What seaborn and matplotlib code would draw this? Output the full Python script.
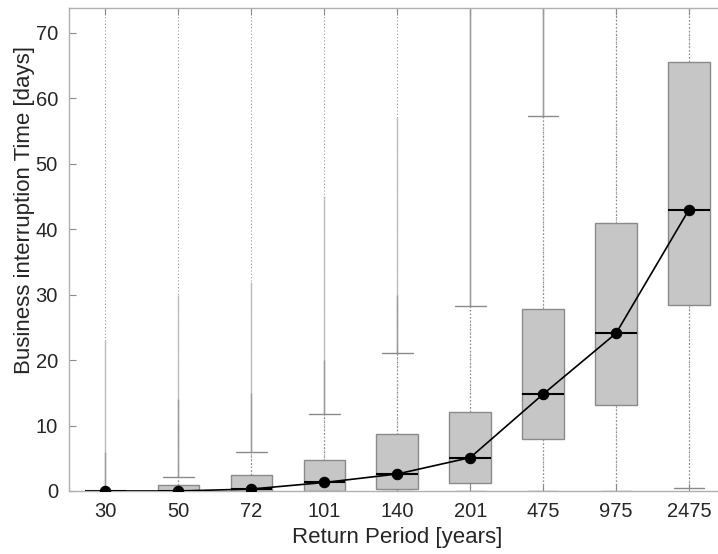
import numpy as np
import matplotlib
matplotlib.use("Agg")
import matplotlib.pyplot as plt
import seaborn as sns

# Return periods (years) shown as categories
return_periods = ["30", "50", "72", "101", "140", "201", "475", "975", "2475"]

# Box-plot summary of business interruption time [days]
q1 = [0.0, 0.0, 0.0, 0.0, 0.35, 1.2, 8.0, 13.2, 28.4]
median = [0.0, 0.0, 0.3, 1.3, 2.6, 5.1, 14.8, 24.1, 43.0]
q3 = [0.0, 0.9, 2.4, 4.75, 8.65, 12.05, 27.8, 41.0, 65.5]
whisker_low = [0.0, 0.0, 0.0, 0.0, 0.0, 0.0, 0.0, 0.0, 0.5]
whisker_high = [0.0, 2.2, 6.0, 11.8, 21.1, 28.2, 57.3, 80.0, 80.0]

# Outliers above each cap: tightly packed core, then a looser band
outlier_core_top = [6.0, 14.0, 15.0, 20.0, 30.0, 74.0, 74.0, 80.0, 80.0]
outlier_dense_top = [23.0, 30.0, 32.0, 45.0, 57.0, 74.0, 74.0, 80.0, 80.0]

sns.set_theme(style="white")
plt.rcParams["font.family"] = ["Liberation Sans", "DejaVu Sans"]

fig = plt.figure(figsize=(7.18, 5.54), dpi=100)
ax = fig.add_axes([69 / 718, (554 - 491) / 554, (725.5 - 69) / 718, (491 - 8) / 554])

positions = np.arange(len(return_periods))
edge = "#8a8a8a"

# dotted vertical grid at each category
ax.set_axisbelow(True)
ax.xaxis.grid(True, linestyle=(0, (1, 2)), color="#9a9a9a", linewidth=0.8)
ax.yaxis.grid(False)

# outlier streaks above the caps
ax.vlines(positions, whisker_high, outlier_dense_top, colors="#bdbdbd", linewidth=1.0, zorder=1)
ax.vlines(positions, whisker_high, outlier_core_top, colors="#9c9c9c", linewidth=1.0, zorder=1)

stats = [
    dict(label=lab, q1=a, med=m, q3=b, whislo=lo, whishi=hi)
    for lab, a, m, b, lo, hi in zip(return_periods, q1, median, q3, whisker_low, whisker_high)
]
ax.bxp(
    stats,
    positions=positions,
    widths=0.57,
    patch_artist=True,
    showfliers=False,
    boxprops=dict(facecolor="#c6c6c6", edgecolor=edge, linewidth=1.0),
    whiskerprops=dict(color=edge, linestyle=(0, (1, 2)), linewidth=0.9),
    capprops=dict(color=edge, linewidth=1.0),
    capwidths=0.42,
    medianprops=dict(color="black", linewidth=1.5),
    manage_ticks=False,
    zorder=2,
)

# medians connected by a line
sns.lineplot(x=positions, y=median, ax=ax, color="black", linewidth=1.2,
             marker="o", markersize=7.5, markeredgecolor="black", zorder=5)

ax.set_xlim(-0.5, len(return_periods) - 0.5)
ax.set_ylim(0, 73.8)
ax.set_xticks(positions)
ax.set_xticklabels(return_periods)
ax.set_yticks(np.arange(0, 71, 10))

text_color = "#262626"
ax.tick_params(axis="both", which="both", direction="in", length=5, width=0.8,
               color="#8a8a8a", labelsize=14.5, labelcolor=text_color,
               top=True, right=True, bottom=True, left=True)
ax.tick_params(axis="x", pad=8)
ax.tick_params(axis="y", pad=8)
for s in ax.spines.values():
    s.set_color("#b0b0b0")
    s.set_linewidth(1.0)

ax.set_xlabel("Return Period [years]", fontsize=16, color=text_color, labelpad=4)
ax.set_ylabel("Business interruption Time [days]", fontsize=16, color=text_color)
ax.yaxis.set_label_coords(-0.052, (491 - 210) / 483)

fig.savefig("out.png", dpi=100)
